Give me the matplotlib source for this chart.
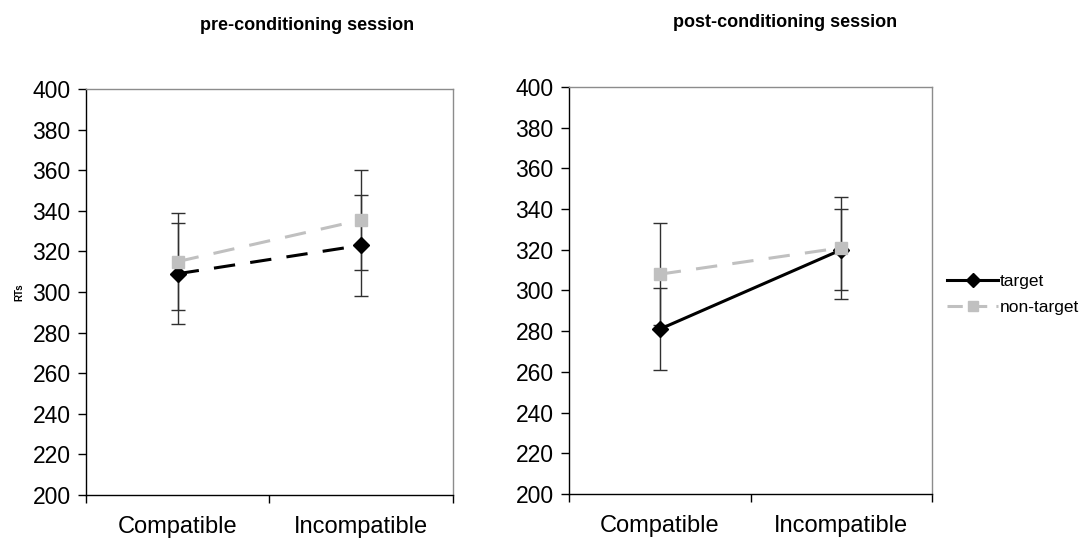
import matplotlib.pyplot as plt
from matplotlib.lines import Line2D

plt.rcParams['font.family'] = ['Liberation Sans', 'DejaVu Sans']

conditions = ['Compatible', 'Incompatible']
yticks = list(range(200, 401, 20))

# mean RTs and error bars, pre-conditioning session
pre_target = [309, 323]
pre_target_err = [25, 25]
pre_nontarget = [315, 335.5]
pre_nontarget_err = [24, 24.5]

# post-conditioning session
post_target = [281, 320]
post_target_err = [20, 20]
post_nontarget = [308, 321]
post_nontarget_err = [25, 25]

black = '#000000'
grey = '#c0c0c0'
frame = '#8c8c8c'
dash = (7, 5)

fig = plt.figure(figsize=(10.84, 5.45), dpi=100)
ax1 = fig.add_axes([0.0793, 0.0917, 0.3386, 0.745])
ax2 = fig.add_axes([0.5249, 0.0936, 0.3349, 0.7468])

xs = [0.5, 1.5]


def draw(ax, tgt, tgt_err, non, non_err, tgt_style):
    ax.errorbar(xs, tgt, yerr=tgt_err, fmt='none', ecolor='#303030',
                elinewidth=1.0, capsize=5, capthick=1.0, zorder=2)
    ax.errorbar(xs, non, yerr=non_err, fmt='none', ecolor='#303030',
                elinewidth=1.0, capsize=5, capthick=1.0, zorder=2)
    ax.plot(xs, tgt, color=black, lw=2.2, linestyle=tgt_style,
            marker='D', markersize=8.5, zorder=3)
    ax.plot(xs, non, color=grey, lw=2.2, linestyle=(0, dash),
            marker='s', markersize=8.5, zorder=4)

    ax.set_xlim(0, 2)
    ax.set_ylim(200, 400)
    ax.set_yticks(yticks)
    ax.set_xticks([0, 1, 2])
    ax.set_xticklabels([])
    ax.set_xticks(xs, minor=True)
    ax.set_xticklabels(conditions, minor=True)
    ax.tick_params(axis='x', which='major', direction='out', length=6,
                   width=1, color=black)
    ax.tick_params(axis='x', which='minor', length=0, labelsize=17,
                   pad=15)
    ax.tick_params(axis='y', direction='out', length=6, width=1,
                   labelsize=16.5, pad=5, color=black)
    for s in ['left', 'bottom']:
        ax.spines[s].set_color(black)
        ax.spines[s].set_linewidth(1.0)
    for s in ['top', 'right']:
        ax.spines[s].set_color(frame)
        ax.spines[s].set_linewidth(1.0)


draw(ax1, pre_target, pre_target_err, pre_nontarget, pre_nontarget_err,
     (0, dash))
draw(ax2, post_target, post_target_err, post_nontarget, post_nontarget_err,
     '-')

ax1.set_ylabel('RTs', fontsize=7, fontweight='bold', labelpad=6)

fig.text(0.283, 0.954, 'pre-conditioning session', ha='center', va='center',
         fontsize=13, fontweight='bold')
fig.text(0.724, 0.958, 'post-conditioning session', ha='center',
         va='center', fontsize=13, fontweight='bold')

handles = [
    Line2D([], [], color=black, lw=2.2, marker='D', markersize=7),
    Line2D([], [], color=grey, lw=2.2, linestyle=(0, (5, 3)), marker='s',
           markersize=7),
]
fig.legend(handles, ['target', 'non-target'], loc='center left',
           bbox_to_anchor=(0.874, 0.46), frameon=False, fontsize=12.5,
           borderpad=0, borderaxespad=0, handlelength=2.9,
           handletextpad=0.12, labelspacing=0.6)

fig.savefig('out.png', dpi=100)
